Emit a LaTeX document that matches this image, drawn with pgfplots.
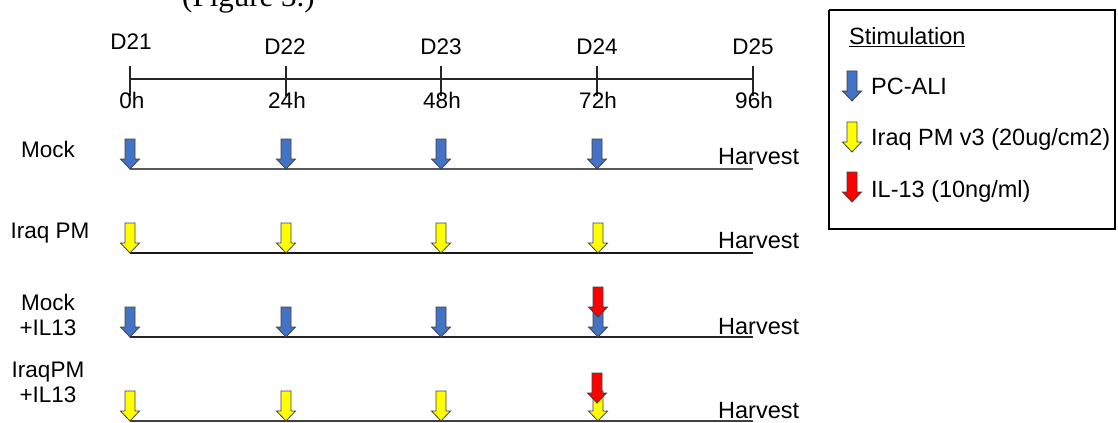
\documentclass[border=0pt]{standalone}
\usepackage{pgfplots}
\pgfplotsset{compat=1.18}
\usepackage{fontspec}
\setmainfont{Liberation Sans}
\newfontfamily\seriffont{Liberation Serif}
\definecolor{ablue}{HTML}{4472C4}
\definecolor{ayellow}{HTML}{FFFF00}
\definecolor{ared}{HTML}{FF0000}
\pgfdeclareplotmark{dnarrow}{%
  \pgfpathmoveto{\pgfpoint{-5bp}{30bp}}%
  \pgfpathlineto{\pgfpoint{5bp}{30bp}}%
  \pgfpathlineto{\pgfpoint{5bp}{10bp}}%
  \pgfpathlineto{\pgfpoint{9.5bp}{10bp}}%
  \pgfpathlineto{\pgfpoint{0bp}{0bp}}%
  \pgfpathlineto{\pgfpoint{-9.5bp}{10bp}}%
  \pgfpathlineto{\pgfpoint{-5bp}{10bp}}%
  \pgfpathclose
  \pgfusepathqfillstroke}
\tikzset{
  lab/.style={font=\fontsize{22.5bp}{25bp}\selectfont, inner sep=0pt},
  leg/.style={font=\fontsize{23.5bp}{26bp}\selectfont, inner sep=0pt},
  arr/.style={only marks, mark=dnarrow, mark options={fill=#1, draw=black!75, line width=0.8bp}},
}
\begin{document}
\begin{tikzpicture}
\useasboundingbox (0,0) rectangle (1118bp,423bp);
\clip (0,0) rectangle (1118bp,423bp);
\begin{axis}[at={(0,0)}, anchor=south west, scale only axis,
  width=1118bp, height=423bp, xmin=0, xmax=1118, ymin=0, ymax=423,
  y dir=reverse, hide axis, clip=false]

% title (cut off at the top)
\node[inner sep=0pt, anchor=base west, font=\seriffont\fontsize{31bp}{33bp}\selectfont] at (axis cs:182,7) {(Figure 3.)};

% time axis
\addplot[black!85, line width=1.3bp] coordinates {(130,79) (753,79)};
\addplot[black!85, line width=1.3bp, unbounded coords=jump] coordinates {
 (130,66) (130,96) (nan,nan) (286,66) (286,96) (nan,nan) (441,66) (441,96) (nan,nan)
 (597,66) (597,96) (nan,nan) (753,66) (753,96)};
\node[lab, anchor=base] at (axis cs:131,50) {D21};
\node[lab, anchor=base] at (axis cs:285,55) {D22};
\node[lab, anchor=base] at (axis cs:441,55) {D23};
\node[lab, anchor=base] at (axis cs:597,55) {D24};
\node[lab, anchor=base] at (axis cs:753,55) {D25};
\node[lab, anchor=base] at (axis cs:132,108) {0h};
\node[lab, anchor=base] at (axis cs:287,108) {24h};
\node[lab, anchor=base] at (axis cs:442,108) {48h};
\node[lab, anchor=base] at (axis cs:598,108) {72h};
\node[lab, anchor=base] at (axis cs:754,108) {96h};

% row lines
\addplot[black!65, line width=2bp] coordinates {(130,169) (753,169)};
\addplot[black!90, line width=2bp] coordinates {(130,253) (753,253)};
\addplot[black!85, line width=2bp] coordinates {(130,337) (753,337)};
\addplot[black!75, line width=2bp] coordinates {(130,421) (753,421)};

% row labels
\node[lab, anchor=base] at (axis cs:48,157) {Mock};
\node[lab, anchor=base] at (axis cs:50,238) {Iraq PM};
\node[lab, anchor=base] at (axis cs:48,310) {Mock};
\node[lab, anchor=base] at (axis cs:48,335) {+IL13};
\node[lab, anchor=base] at (axis cs:48,377) {IraqPM};
\node[lab, anchor=base] at (axis cs:48,402) {+IL13};

% Harvest
\node[leg, anchor=base west] at (axis cs:718,164) {Harvest};
\node[leg, anchor=base west] at (axis cs:718,248) {Harvest};
\node[leg, anchor=base west] at (axis cs:718,334) {Harvest};
\node[leg, anchor=base west] at (axis cs:718,418) {Harvest};

% arrows
\addplot[arr=ablue] coordinates {(130,169) (286,169) (441,169) (597,169)};
\addplot[arr=ayellow] coordinates {(130,253) (286,253) (441,253) (598,253)};
\addplot[arr=ablue] coordinates {(130,337) (286,337) (441,337) (598,337)};
\addplot[arr=ared] coordinates {(598,317)};
\addplot[arr=ayellow] coordinates {(130,421) (286,421) (441,421) (598,421)};
\addplot[arr=ared] coordinates {(597,403)};

% legend
\addplot[black, line width=1.2bp, line join=miter] coordinates {(829,10) (1115,10) (1115,229) (829,229) (829,10)};
\node[leg, anchor=base west] at (axis cs:849,45) {\underline{Stimulation}};
\addplot[arr=ablue] coordinates {(852,101)};
\addplot[arr=ayellow] coordinates {(852,152)};
\addplot[arr=ared] coordinates {(852,202)};
\node[leg, anchor=base west] at (axis cs:871,94) {PC-ALI};
\node[leg, anchor=base west] at (axis cs:871,145) {Iraq PM v3 (20ug/cm2)};
\node[leg, anchor=base west] at (axis cs:871,197) {IL-13 (10ng/ml)};
\end{axis}
\end{tikzpicture}
\end{document}
